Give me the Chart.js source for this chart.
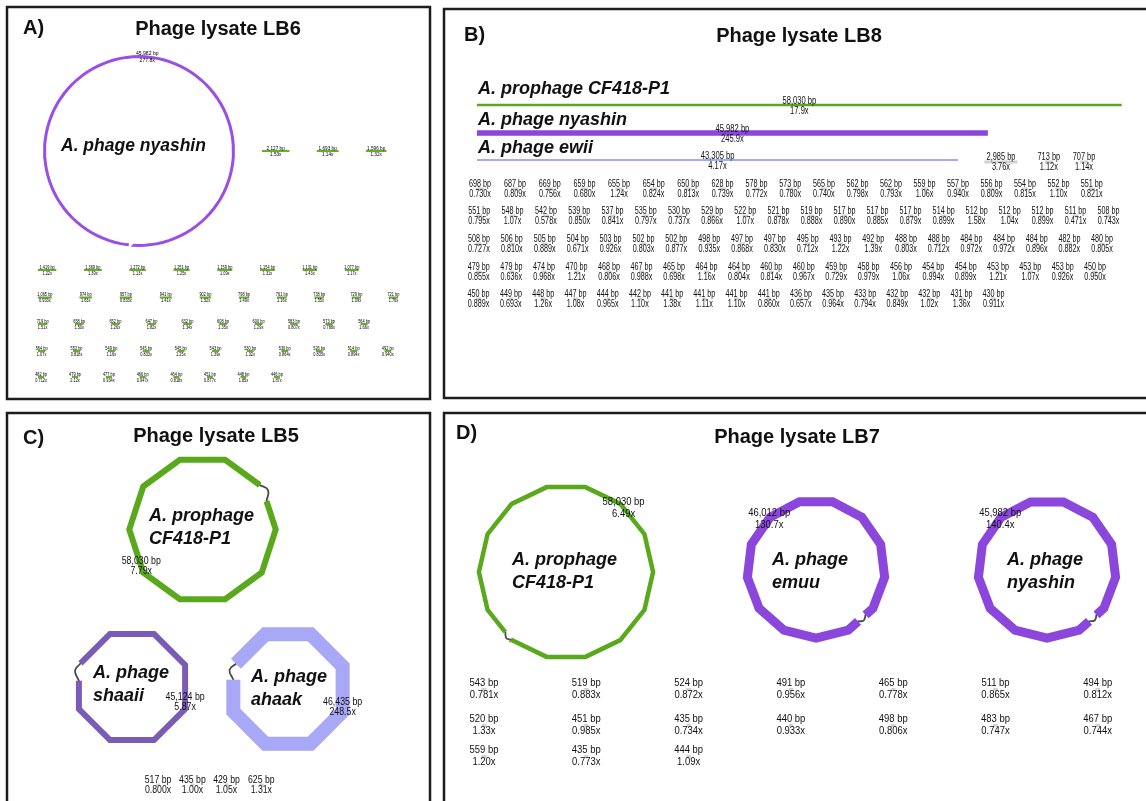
<!DOCTYPE html>
<html>
<head>
<meta charset="utf-8">
<title>Phage lysate assembly graphs</title>
<script src="https://cdn.jsdelivr.net/npm/chart.js@4.4.1/dist/chart.umd.min.js"></script>
<style>
  html, body { margin:0; padding:0; background:#ffffff; }
  body { width:1146px; height:801px; position:relative; overflow:hidden; }
  canvas { position:absolute; display:block; }
</style>
</head>
<body>
<canvas id="panelA"></canvas>
<canvas id="panelB"></canvas>
<canvas id="panelC"></canvas>
<canvas id="panelD"></canvas>
<script>
// ======================= DATA =======================
// Panel A - Phage lysate LB6
const lb6Title = 'Phage lysate LB6';
const lb6Names = ['A. phage nyashin'];
const lb6Lengths = [45982];
const lb6Coverage = [277.8];
const lb6TopSmallLengths = [2127, 1693, 1596];
const lb6TopSmallCoverage = [1.53, 1.14, 1.32];
const lb6SmallLengths = [
  1419, 1369, 1272, 1251, 1159, 1154, 1131, 1077,
  1065, 974, 957, 941, 902, 798, 761, 738, 729, 721,
  719, 658, 652, 647, 632, 608, 600, 583, 573, 564,
  564, 552, 549, 545, 545, 543, 530, 530, 526, 514, 492,
  482, 479, 477, 466, 464, 451, 448, 446];
const lb6SmallCoverage = [
  1.22, 1.39, 1.13, 1.25, 1.09, 1.31, 1.43, 1.17,
  0.933, 1.63, 0.833, 1.41, 1.52, 1.49, 1.16, 1.55, 1.09, 1.76,
  1.51, 1.50, 1.26, 1.82, 1.34, 1.35, 1.29, 0.807, 0.788, 1.66,
  1.07, 0.818, 1.16, 0.833, 1.25, 1.39, 1.32, 0.864, 0.835, 0.894, 0.940,
  0.712, 2.12, 0.934, 0.947, 0.818, 0.877, 1.85, 1.87];

// Panel B - Phage lysate LB8
const lb8Title = 'Phage lysate LB8';
const lb8Names = ['A. prophage CF418-P1', 'A. phage nyashin', 'A. phage ewii'];
const lb8Lengths = [58030, 45982, 43305];
const lb8Coverage = [17.9, 245.9, 4.17];
const lb8TopSmallLengths = [2985, 713, 707];
const lb8TopSmallCoverage = [3.76, 1.12, 1.14];
const lb8SmallLengths = [
  698, 687, 669, 659, 655, 654, 650, 628, 578, 573, 565, 562, 562, 559, 557, 556, 554, 552, 551,
  551, 548, 542, 539, 537, 535, 530, 529, 522, 521, 519, 517, 517, 517, 514, 512, 512, 512, 511, 508,
  508, 506, 505, 504, 503, 502, 502, 498, 497, 497, 495, 493, 492, 488, 488, 484, 484, 484, 482, 480,
  479, 479, 474, 470, 468, 467, 465, 464, 464, 460, 460, 459, 458, 456, 454, 454, 453, 453, 453, 450,
  450, 449, 448, 447, 444, 442, 441, 441, 441, 441, 436, 435, 433, 432, 432, 431, 430];
const lb8SmallCoverage = [
  0.730, 0.809, 0.756, 0.680, 1.24, 0.824, 0.813, 0.739, 0.772, 0.780, 0.740, 0.798, 0.793, 1.06, 0.940, 0.809, 0.815, 1.10, 0.821,
  0.795, 1.07, 0.578, 0.850, 0.841, 0.797, 0.737, 0.866, 1.07, 0.878, 0.888, 0.890, 0.885, 0.879, 0.899, 1.58, 1.04, 0.899, 0.471, 0.743,
  0.727, 0.810, 0.889, 0.671, 0.926, 0.803, 0.877, 0.935, 0.868, 0.830, 0.712, 1.22, 1.39, 0.803, 0.712, 0.972, 0.972, 0.896, 0.882, 0.805,
  0.855, 0.636, 0.968, 1.21, 0.806, 0.988, 0.698, 1.16, 0.804, 0.814, 0.967, 0.729, 0.979, 1.06, 0.994, 0.899, 1.21, 1.07, 0.926, 0.950,
  0.889, 0.693, 1.26, 1.08, 0.965, 1.10, 1.38, 1.11, 1.10, 0.860, 0.657, 0.964, 0.794, 0.849, 1.02, 1.36, 0.911];

// Panel C - Phage lysate LB5
const lb5Title = 'Phage lysate LB5';
const lb5Names = ['A. prophage CF418-P1', 'A. phage shaaii', 'A. phage ahaak'];
const lb5Lengths = [58030, 45124, 46435];
const lb5Coverage = [7.79, 5.87, 248.5];
const lb5SmallLengths = [517, 435, 429, 625];
const lb5SmallCoverage = [0.800, 1.00, 1.05, 1.31];

// Panel D - Phage lysate LB7
const lb7Title = 'Phage lysate LB7';
const lb7Names = ['A. prophage CF418-P1', 'A. phage emuu', 'A. phage nyashin'];
const lb7Lengths = [58030, 46012, 45982];
const lb7Coverage = [6.49, 130.7, 140.4];
const lb7SmallLengths = [543, 520, 559, 519, 451, 435, 524, 435, 444, 491, 440, 465, 498, 511, 483, 494, 467];
const lb7SmallCoverage = [0.781, 1.33, 1.20, 0.883, 0.985, 0.773, 0.872, 0.734, 1.09, 0.956, 0.933, 0.778, 0.806, 0.865, 0.747, 0.812, 0.744];

// ======================= LAYOUT / STYLE =======================
const FONT = '"Liberation Sans", Arial, Helvetica, sans-serif';
const GREEN = '#5aa91c', PURPLE = '#8b46dc', LAVENDER = '#a9a9f6';
const GREY_LINE = 'rgba(165,165,165,0.5)';

const layoutA = {
  canvas: {x:0, y:0, w:437, h:406}, k: 0.0129,
  frame: [7, 7, 430, 399],
  letter: {text:'A)', x:23, y:34}, title: {x:218, y:35},
  nameSize: 17.5,
  ringLabel: {size:6, scaleX:0.85, bpDy:-3.8, covDy:3.6, color:'#000'},
  rings: [
    {idx:0, cx:139, cy:151, sides:96, phaseDeg:0, gapDeg:95, gapPx:4, width:3, color:'#9a4fe4', connector:0,
     name:{x:61, y:151, lh:0, split:false}}
  ],
  small: [
    {which:'top', place:{kind:'rows', leftEdge:262, ys:[148], counts:[3], gapPx:27.3},
     lineColor:'#62b024', lineWidth:2, lineDy:3, covDy:6.5, size:5.5, scaleX:0.85, color:'#000'},
    {which:'grid', place:{kind:'rows', leftEdge:38, ys:[267.5, 295, 321.5, 348.5, 374.5], counts:[8,10,10,11,8], gapPx:27.7},
     lineColor:'#62b024', lineWidth:2, lineDy:2.5, covDy:6, size:4.6, scaleX:0.85, color:'#000'}
  ]
};

const layoutB = {
  canvas: {x:437, y:0, w:709, h:406}, k: 0.01111,
  frame: [444, 9, 1150, 398],
  letter: {text:'B)', x:464, y:41}, title: {x:799, y:42},
  nameSize: 18,
  barLabel: {size:10, scaleX:0.76, bpDy:-4, covDy:6.5},
  linears: [
    {idx:0, x0:477, y:105, width:2.5, color:GREEN, name:{x:478, y:94}},
    {idx:1, x0:477, y:133, width:5.5, color:PURPLE, name:{x:478, y:125}},
    {idx:2, x0:477, y:160, width:2, color:LAVENDER, name:{x:478, y:153}}
  ],
  small: [
    {which:'top', place:{kind:'rows', leftEdge:984.4, ys:[157], counts:[3], gapPx:27.3},
     lineColor:GREY_LINE, lineWidth:3, lineDy:5, covDy:10, size:10, scaleX:0.74},
    {which:'grid', place:{kind:'rows', leftEdge:476.1, ys:[184, 211, 239, 267, 294], counts:[19,20,20,20,17], gapPx:27.3},
     lineColor:GREY_LINE, lineWidth:3, lineDy:5, covDy:10.5, size:10, scaleX:0.72}
  ]
};

const layoutC = {
  canvas: {x:0, y:406, w:437, h:395}, k: 0.0078,
  frame: [7, 413, 430, 810],
  letter: {text:'C)', x:23, y:444}, title: {x:216, y:442},
  nameSize: 18,
  ringLabel: {size:10, scaleX:0.88, bpDy:-5, covDy:5},
  rings: [
    {idx:0, cx:202.5, cy:529.5, sides:10, phaseDeg:0, gapDeg:-31, gapPx:18, width:6, color:GREEN, connector:5,
     name:{x:149, y:521, lh:22.5, split:true}},
    {idx:1, cx:132, cy:687, sides:8, phaseDeg:22.5, gapDeg:196, gapPx:18, width:6, color:'#7a5cb8', connector:4,
     name:{x:93, y:678, lh:22.5, split:true}},
    {idx:2, cx:288, cy:689, sides:8, phaseDeg:22.5, gapDeg:198, gapPx:17, width:14, color:'#a8a8f7', connector:4,
     name:{x:251, y:682, lh:22.5, split:true}}
  ],
  small: [
    {which:'grid', place:{kind:'rows', leftEdge:156, ys:[780], counts:[4], gapPx:30.7},
     lineColor:GREY_LINE, lineWidth:3, lineDy:5, covDy:10, size:10, scaleX:0.87}
  ]
};

const layoutD = {
  canvas: {x:437, y:406, w:709, h:395}, k: 0.00935,
  frame: [444, 413, 1150, 810],
  letter: {text:'D)', x:456, y:439}, title: {x:797, y:443},
  nameSize: 18,
  ringLabel: {size:11, scaleX:0.86, bpDy:-6, covDy:6},
  rings: [
    {idx:0, cx:566, cy:572, sides:14, phaseDeg:0, gapDeg:132, gapPx:10, width:4.5, color:GREEN, connector:3,
     name:{x:512, y:565, lh:23, split:true}},
    {idx:1, cx:816, cy:569, sides:13, phaseDeg:6.9, gapDeg:47, gapPx:10, width:9, color:PURPLE, connector:3,
     name:{x:772, y:565, lh:23, split:true}},
    {idx:2, cx:1047, cy:569, sides:13, phaseDeg:6.9, gapDeg:47, gapPx:10, width:9, color:PURPLE, connector:3,
     name:{x:1007, y:565, lh:23, split:true}}
  ],
  small: [
    {which:'grid', place:{kind:'grid', x0:484, dx:102.3, ys:[683, 719, 750], colHeights:[3,3,3,2,2,2,2]},
     lineColor:GREY_LINE, lineWidth:3, lineDy:6.5, covDy:12, size:11, scaleX:0.86}
  ]
};

// ======================= HELPERS =======================
function fmtLen(v) { return String(v).replace(/\B(?=(\d{3})+(?!\d))/g, ',') + ' bp'; }
function fmtCov(v) { return (v >= 10 ? v.toFixed(1) : v.toPrecision(3)) + 'x'; }
function splitName(s) { const i = s.lastIndexOf(' '); return [s.slice(0, i), s.slice(i + 1)]; }
function pathLength(pts) {
  let t = 0;
  for (let i = 1; i < pts.length; i++) t += Math.hypot(pts[i].x - pts[i-1].x, pts[i].y - pts[i-1].y);
  return t;
}
function pointAtFraction(pts, f) {
  let target = pathLength(pts) * f;
  for (let i = 1; i < pts.length; i++) {
    const d = Math.hypot(pts[i].x - pts[i-1].x, pts[i].y - pts[i-1].y);
    if (target <= d) {
      const t = d ? target / d : 0;
      return {x: pts[i-1].x + (pts[i].x - pts[i-1].x) * t, y: pts[i-1].y + (pts[i].y - pts[i-1].y) * t};
    }
    target -= d;
  }
  return pts[pts.length - 1];
}
// portion of a polyline between arc lengths s0 and s1
function subPath(pts, s0, s1) {
  const out = []; let acc = 0;
  for (let i = 1; i < pts.length; i++) {
    const a = pts[i-1], b = pts[i];
    const d = Math.hypot(b.x - a.x, b.y - a.y);
    const lo = acc, hi = acc + d;
    acc = hi;
    if (d === 0 || hi < s0 || lo > s1) continue;
    if (!out.length) {
      const t = Math.max(0, (s0 - lo) / d);
      out.push({x: a.x + (b.x - a.x) * t, y: a.y + (b.y - a.y) * t});
    }
    if (hi <= s1) out.push({x: b.x, y: b.y});
    else {
      const t = (s1 - lo) / d;
      out.push({x: a.x + (b.x - a.x) * t, y: a.y + (b.y - a.y) * t});
      break;
    }
  }
  return out;
}

function buildPanel(canvasId, L, title, contigs, smallSets) {
  const el = document.getElementById(canvasId);
  const R = L.canvas, k = L.k;
  el.width = R.w; el.height = R.h;
  Object.assign(el.style, {left: R.x + 'px', top: R.y + 'px', width: R.w + 'px', height: R.h + 'px'});
  // page pixel -> data units (base pairs of the layout space)
  const U = px => (px - R.x) / k;
  const V = py => (py - R.y) / k;

  const datasets = [];
  const texts = [];
  const addText = (str, u, v, font, o) => texts.push(Object.assign({str, u, v, font}, o || {}));
  const lineDs = (pts, color, width, extra) => Object.assign({
    data: pts, showLine: true, borderColor: color, backgroundColor: color, borderWidth: width,
    pointRadius: 0, pointHoverRadius: 0, tension: 0, fill: false,
    borderCapStyle: 'butt', borderJoinStyle: 'miter'
  }, extra || {});
  const labelFont = size => size + 'px ' + FONT;
  const nameFont = 'italic bold ' + L.nameSize + 'px ' + FONT;

  // circular contigs: closed polygon whose perimeter equals the contig length
  (L.rings || []).forEach(r => {
    const len = contigs.lengths[r.idx];
    const n = r.sides;
    const Rd = len / (2 * n * Math.sin(Math.PI / n));
    const cu = U(r.cx), cv = V(r.cy);
    const g = r.gapDeg * Math.PI / 180, step = 2 * Math.PI / n;
    const ph = r.phaseDeg * Math.PI / 180;
    let off = ((ph - g) % step + step) % step;
    if (off < 1e-4) off = 1e-4;
    const verts = [];
    for (let i = 0; i < n; i++) {
      const a = g + off + i * step;
      verts.push({x: cu + Rd * Math.cos(a), y: cv + Rd * Math.sin(a)});
    }
    // point where the ray at the gap angle meets edge verts[n-1] -> verts[0]
    const A = verts[n-1], B = verts[0];
    const dx = Math.cos(g), dy = Math.sin(g);
    const ex = B.x - A.x, ey = B.y - A.y;
    const den = dx * ey - dy * ex;
    const t = den ? (dx * (A.y - cv) - dy * (A.x - cu)) / -den : 0.5;
    const Pg = {x: A.x + ex * Math.min(1, Math.max(0, t)), y: A.y + ey * Math.min(1, Math.max(0, t))};
    const loop = [Pg].concat(verts, [Pg]);
    const total = pathLength(loop);
    const half = r.gapPx / k / 2;
    const path = subPath(loop, half, total - half);
    datasets.push(lineDs(path, r.color, r.width));
    if (r.connector) {
      const S = path[0], E = path[path.length - 1];
      const d = Math.hypot(Pg.x - cu, Pg.y - cv);
      const out = r.connector / k;
      const C = {x: Pg.x + (Pg.x - cu) / d * out, y: Pg.y + (Pg.y - cv) / d * out};
      datasets.push(lineDs([E, C, S], '#4a4a4a', 1.8, {tension: 0.45, borderCapStyle: 'round'}));
    }
    const mid = pointAtFraction(path, 0.5);
    const RL = L.ringLabel;
    addText(fmtLen(len), mid.x, mid.y + RL.bpDy / k, labelFont(RL.size), {scaleX: RL.scaleX, color: RL.color});
    addText(fmtCov(contigs.coverage[r.idx]), mid.x, mid.y + RL.covDy / k, labelFont(RL.size), {scaleX: RL.scaleX, color: RL.color});
    const nm = contigs.names[r.idx];
    const lines = r.name.split ? splitName(nm) : [nm];
    lines.forEach((s, i) => addText(s, U(r.name.x), V(r.name.y + i * r.name.lh), nameFont,
      {align: 'left', baseline: 'alphabetic'}));
  });

  // linear contigs
  (L.linears || []).forEach(b => {
    const len = contigs.lengths[b.idx];
    const p0 = {x: U(b.x0), y: V(b.y)}, p1 = {x: U(b.x0) + len, y: V(b.y)};
    datasets.push(lineDs([p0, p1], b.color, b.width));
    const mu = (p0.x + p1.x) / 2, BL = L.barLabel;
    addText(fmtLen(len), mu, p0.y + BL.bpDy / k, labelFont(BL.size), {scaleX: BL.scaleX});
    addText(fmtCov(contigs.coverage[b.idx]), mu, p0.y + BL.covDy / k, labelFont(BL.size), {scaleX: BL.scaleX});
    addText(contigs.names[b.idx], U(b.name.x), V(b.name.y), nameFont, {align: 'left', baseline: 'alphabetic'});
  });

  // small contigs
  (L.small || []).forEach(sg => {
    const set = smallSets[sg.which];
    const P = sg.place;
    const centers = [];
    if (P.kind === 'rows') {
      let idx = 0;
      P.counts.forEach((cnt, r) => {
        let x = U(P.leftEdge);
        for (let j = 0; j < cnt; j++, idx++) {
          const len = set.lengths[idx];
          const c = x + len / 2;
          centers.push({u: c, v: V(P.ys[r])});
          x = c + len / 2 + P.gapPx / k;
        }
      });
    } else {
      P.colHeights.forEach((h, c) => {
        for (let r = 0; r < h; r++) centers.push({u: U(P.x0 + c * P.dx), v: V(P.ys[r])});
      });
    }
    centers.forEach((c, i) => {
      const len = set.lengths[i];
      const lv = c.v + sg.lineDy / k;
      datasets.push(lineDs([{x: c.u - len / 2, y: lv}, {x: c.u + len / 2, y: lv}], sg.lineColor, sg.lineWidth));
      addText(fmtLen(len), c.u, c.v, labelFont(sg.size), {scaleX: sg.scaleX, color: sg.color});
      addText(fmtCov(set.coverage[i]), c.u, c.v + sg.covDy / k, labelFont(sg.size), {scaleX: sg.scaleX, color: sg.color});
    });
  });

  addText(L.letter.text, U(L.letter.x), V(L.letter.y), 'bold 20px ' + FONT, {align: 'left', baseline: 'alphabetic'});
  addText(title, U(L.title.x), V(L.title.y), 'bold 20px ' + FONT, {align: 'center', baseline: 'alphabetic'});

  const decor = {
    id: 'panelDecor',
    beforeDatasetsDraw(chart) {
      const ctx = chart.ctx, sx = chart.scales.x, sy = chart.scales.y;
      const f = L.frame;
      const x0 = sx.getPixelForValue(U(f[0])), y0 = sy.getPixelForValue(V(f[1]));
      const x1 = sx.getPixelForValue(U(f[2])), y1 = sy.getPixelForValue(V(f[3]));
      ctx.save();
      ctx.strokeStyle = '#1c1c1c'; ctx.lineWidth = 2.5;
      ctx.strokeRect(x0, y0, x1 - x0, y1 - y0);
      ctx.restore();
    },
    afterDatasetsDraw(chart) {
      const ctx = chart.ctx, sx = chart.scales.x, sy = chart.scales.y;
      texts.forEach(t => {
        const x = sx.getPixelForValue(t.u), y = sy.getPixelForValue(t.v);
        ctx.save();
        ctx.font = t.font; ctx.fillStyle = t.color || '#111';
        ctx.textAlign = t.align || 'center'; ctx.textBaseline = t.baseline || 'middle';
        ctx.translate(x, y); ctx.scale(t.scaleX || 1, 1);
        ctx.fillText(t.str, 0, 0);
        ctx.restore();
      });
    }
  };

  return new Chart(el, {
    type: 'scatter',
    data: {datasets},
    options: {
      responsive: false, maintainAspectRatio: false, animation: false, devicePixelRatio: 1, events: [],
      layout: {padding: 0, autoPadding: false},
      scales: {
        x: {type: 'linear', display: false, bounds: 'data', min: 0, max: R.w / k},
        y: {type: 'linear', display: false, bounds: 'data', min: 0, max: R.h / k, reverse: true}
      },
      plugins: {legend: {display: false}, tooltip: {enabled: false}, title: {display: false}}
    },
    plugins: [decor]
  });
}

buildPanel('panelA', layoutA, lb6Title,
  {names: lb6Names, lengths: lb6Lengths, coverage: lb6Coverage},
  {top: {lengths: lb6TopSmallLengths, coverage: lb6TopSmallCoverage},
   grid: {lengths: lb6SmallLengths, coverage: lb6SmallCoverage}});
buildPanel('panelB', layoutB, lb8Title,
  {names: lb8Names, lengths: lb8Lengths, coverage: lb8Coverage},
  {top: {lengths: lb8TopSmallLengths, coverage: lb8TopSmallCoverage},
   grid: {lengths: lb8SmallLengths, coverage: lb8SmallCoverage}});
buildPanel('panelC', layoutC, lb5Title,
  {names: lb5Names, lengths: lb5Lengths, coverage: lb5Coverage},
  {grid: {lengths: lb5SmallLengths, coverage: lb5SmallCoverage}});
buildPanel('panelD', layoutD, lb7Title,
  {names: lb7Names, lengths: lb7Lengths, coverage: lb7Coverage},
  {grid: {lengths: lb7SmallLengths, coverage: lb7SmallCoverage}});
</script>
</body>
</html>
